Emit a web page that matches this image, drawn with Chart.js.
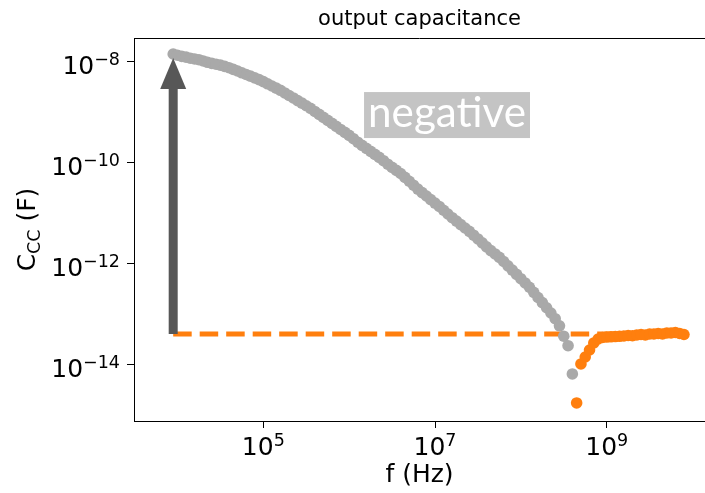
<!DOCTYPE html>
<html>
<head>
<meta charset="utf-8">
<title>output capacitance</title>
<script src="https://cdn.jsdelivr.net/npm/chart.js@4.4.0/dist/chart.umd.min.js"></script>
<style>
  html, body { margin: 0; padding: 0; background: #fff; }
  #wrap { width: 705px; height: 493px; position: relative; }
</style>
</head>
<body>
<div id="wrap"><canvas id="capChart"></canvas></div>
<script>
// sweep frequencies (Hz), 20 points per decade
const freq = [
  8.913e3,
  1.000e4, 1.122e4, 1.259e4, 1.413e4, 1.585e4, 1.778e4, 1.995e4, 2.239e4, 2.512e4, 2.818e4,
  3.162e4, 3.548e4, 3.981e4, 4.467e4, 5.012e4, 5.623e4, 6.310e4, 7.079e4, 7.943e4, 8.913e4,
  1.000e5, 1.122e5, 1.259e5, 1.413e5, 1.585e5, 1.778e5, 1.995e5, 2.239e5, 2.512e5, 2.818e5,
  3.162e5, 3.548e5, 3.981e5, 4.467e5, 5.012e5, 5.623e5, 6.310e5, 7.079e5, 7.943e5, 8.913e5,
  1.000e6, 1.122e6, 1.259e6, 1.413e6, 1.585e6, 1.778e6, 1.995e6, 2.239e6, 2.512e6, 2.818e6,
  3.162e6, 3.548e6, 3.981e6, 4.467e6, 5.012e6, 5.623e6, 6.310e6, 7.079e6, 7.943e6, 8.913e6,
  1.000e7, 1.122e7, 1.259e7, 1.413e7, 1.585e7, 1.778e7, 1.995e7, 2.239e7, 2.512e7, 2.818e7,
  3.162e7, 3.548e7, 3.981e7, 4.467e7, 5.012e7, 5.623e7, 6.310e7, 7.079e7, 7.943e7, 8.913e7,
  1.000e8, 1.122e8, 1.259e8, 1.413e8, 1.585e8, 1.778e8, 1.995e8, 2.239e8, 2.512e8, 2.818e8,
  3.162e8, 3.548e8, 3.981e8, 4.467e8, 5.012e8, 5.623e8, 6.310e8, 7.079e8, 7.943e8, 8.913e8,
  1.000e9, 1.122e9, 1.259e9, 1.413e9, 1.585e9, 1.778e9, 1.995e9, 2.239e9, 2.512e9, 2.818e9,
  3.162e9, 3.548e9, 3.981e9, 4.467e9, 5.012e9, 5.623e9, 6.310e9, 7.079e9, 7.943e9
];

// |C| of the negative part (grey), first 94 frequencies
const negCap = [
  1.44e-8, 1.36e-8, 1.29e-8, 1.25e-8, 1.19e-8, 1.15e-8, 1.11e-8, 1.05e-8, 9.86e-9, 9.38e-9,
  9.04e-9, 8.69e-9, 8.18e-9, 7.71e-9, 7.16e-9, 6.63e-9, 6.11e-9, 5.65e-9, 5.24e-9, 4.84e-9,
  4.48e-9, 4.09e-9, 3.70e-9, 3.35e-9, 3.04e-9, 2.75e-9, 2.44e-9, 2.17e-9, 1.94e-9, 1.72e-9,
  1.53e-9, 1.36e-9, 1.21e-9, 1.05e-9, 9.17e-10, 8.00e-10, 6.98e-10, 6.08e-10, 5.31e-10, 4.62e-10,
  4.04e-10, 3.52e-10, 3.03e-10, 2.58e-10, 2.23e-10, 1.95e-10, 1.70e-10, 1.48e-10, 1.29e-10, 1.11e-10,
  9.46e-11, 8.18e-11, 7.13e-11, 6.19e-11, 5.19e-11, 4.35e-11, 3.63e-11, 3.05e-11, 2.59e-11, 2.22e-11,
  1.89e-11, 1.61e-11, 1.38e-11, 1.16e-11, 9.77e-12, 8.26e-12, 7.08e-12, 6.03e-12, 5.16e-12, 4.43e-12,
  3.72e-12, 3.13e-12, 2.62e-12, 2.19e-12, 1.84e-12, 1.58e-12, 1.35e-12, 1.12e-12, 9.20e-13, 7.57e-13,
  6.22e-13, 5.12e-13, 4.21e-13, 3.46e-13, 2.75e-13, 2.17e-13, 1.72e-13, 1.36e-13, 1.07e-13, 8.26e-14,
  5.97e-14, 3.72e-14, 2.41e-14, 6.64e-15
];

// C of the positive part (orange), remaining frequencies
const posCap = [
  1.77e-15, 1.05e-14, 1.44e-14, 1.98e-14, 2.73e-14, 3.27e-14, 3.51e-14, 3.58e-14, 3.62e-14, 3.66e-14,
  3.70e-14, 3.75e-14, 3.84e-14, 3.80e-14, 3.93e-14, 4.02e-14, 3.93e-14, 4.11e-14, 4.11e-14, 4.21e-14,
  4.11e-14, 4.31e-14, 4.31e-14, 4.41e-14, 4.21e-14, 4.02e-14
];

const xTicks = [1e5, 1e7, 1e9];
const yTicks = [1e-8, 1e-10, 1e-12, 1e-14];
const hfLevel = 4.11e-14;      // dashed high-frequency level
const arrowTop = 1.2e-8;       // arrow tip
const noteText = 'negative';
const notePos = { x: 1.38e7, y: 8.9e-10 };

const GREY = '#a9a9a9';
const ORANGE = '#ff7f0e';
const FONT = '"DejaVu Sans", sans-serif';

const negPoints = negCap.map((c, i) => ({ x: freq[i], y: c }));
const posPoints = posCap.map((c, i) => ({ x: freq[i + negCap.length], y: c }));
const hfLine = [{ x: freq[0], y: hfLevel }, { x: freq[freq.length - 1], y: hfLevel }];

function expLabel(v) {
  return String(Math.round(Math.log10(v))).replace('-', '\u2212');
}

// "10" with a raised exponent, y = baseline of the "10"
function drawPow(ctx, exp, x, y, align) {
  ctx.font = '25px ' + FONT;
  const wb = ctx.measureText('10').width;
  ctx.font = '17.5px ' + FONT;
  const we = ctx.measureText(exp).width;
  const x0 = align === 'center' ? x - (wb + we) / 2 : x - (wb + we);
  ctx.textAlign = 'left';
  ctx.textBaseline = 'alphabetic';
  ctx.font = '25px ' + FONT;
  ctx.fillText('10', x0, y);
  ctx.font = '17.5px ' + FONT;
  ctx.fillText(exp, x0 + wb, y - 9);
}

const decorations = {
  id: 'decorations',
  afterDatasetsDraw(chart) {
    const ctx = chart.ctx;
    const xs = chart.scales.x, ys = chart.scales.y;
    // arrow from the dashed level up to the first point
    const ax = xs.getPixelForValue(freq[0]);
    const yb = ys.getPixelForValue(hfLevel);
    const yt = ys.getPixelForValue(arrowTop);
    const headLen = 31, headW = 26, shaftW = 9;
    ctx.save();
    ctx.fillStyle = '#575757';
    ctx.fillRect(ax - shaftW / 2, yt + headLen - 1, shaftW, yb - yt - headLen + 1);
    ctx.beginPath();
    ctx.moveTo(ax, yt);
    ctx.lineTo(ax - headW / 2, yt + headLen);
    ctx.lineTo(ax + headW / 2, yt + headLen);
    ctx.closePath();
    ctx.fill();

    // "negative" note
    const nx = xs.getPixelForValue(notePos.x);
    const ny = ys.getPixelForValue(notePos.y);
    ctx.font = '40px Lato, Roboto, sans-serif';
    const fs = 40 * 158 / ctx.measureText(noteText).width;
    ctx.font = fs + 'px Lato, Roboto, sans-serif';
    const tw = ctx.measureText(noteText).width;
    ctx.fillStyle = '#c4c4c4';
    ctx.fillRect(nx - tw / 2 - 4, ny - 23, tw + 8, 46);
    ctx.fillStyle = '#ffffff';
    ctx.textAlign = 'center';
    ctx.textBaseline = 'alphabetic';
    ctx.fillText(noteText, nx, ny + 12);
    ctx.restore();
  },
  afterDraw(chart) {
    const ctx = chart.ctx;
    const area = chart.chartArea;
    const xs = chart.scales.x, ys = chart.scales.y;
    ctx.save();
    // top spine
    ctx.strokeStyle = '#000';
    ctx.lineWidth = 1;
    ctx.beginPath();
    ctx.moveTo(area.left, area.top + 0.5);
    ctx.lineTo(area.right, area.top + 0.5);
    ctx.stroke();

    ctx.fillStyle = '#000';
    xTicks.forEach(v => drawPow(ctx, expLabel(v), xs.getPixelForValue(v), 455, 'center'));
    yTicks.forEach(v => drawPow(ctx, expLabel(v), area.left - 14, ys.getPixelForValue(v) + 12.5, 'right'));

    const cx = (area.left + area.right) / 2;
    ctx.textAlign = 'center';
    ctx.textBaseline = 'alphabetic';
    ctx.font = '21px ' + FONT;
    ctx.fillText('output capacitance', cx, 25);
    ctx.font = '25px ' + FONT;
    ctx.fillText('f (Hz)', cx, 482);

    // y label C_CC (F), rotated
    ctx.translate(35, (area.top + area.bottom) / 2);
    ctx.rotate(-Math.PI / 2);
    ctx.textAlign = 'left';
    ctx.font = '25px ' + FONT;
    const w1 = ctx.measureText('C').width;
    const w3 = ctx.measureText(' (F)').width;
    ctx.font = '17.5px ' + FONT;
    const w2 = ctx.measureText('CC').width;
    let x0 = -(w1 + w2 + w3) / 2;
    ctx.font = '25px ' + FONT;
    ctx.fillText('C', x0, 0);
    ctx.font = '17.5px ' + FONT;
    ctx.fillText('CC', x0 + w1, 4.5);
    ctx.font = '25px ' + FONT;
    ctx.fillText(' (F)', x0 + w1 + w2, 0);
    ctx.restore();
  }
};

const axisCommon = {
  type: 'logarithmic',
  grid: { display: true, drawOnChartArea: false, drawTicks: true, tickLength: 7, tickColor: '#000', tickWidth: 1 },
  border: { display: true, color: '#000', width: 1 },
  ticks: { display: false }
};

new Chart(document.getElementById('capChart'), {
  type: 'scatter',
  data: {
    datasets: [
      {
        label: 'C > 0',
        data: posPoints,
        backgroundColor: ORANGE,
        borderWidth: 0,
        pointRadius: 5.8,
        order: 1
      },
      {
        label: 'C < 0',
        data: negPoints,
        backgroundColor: GREY,
        borderWidth: 0,
        pointRadius: 5.8,
        order: 2
      },
      {
        label: 'high frequency level',
        data: hfLine,
        showLine: true,
        borderColor: ORANGE,
        borderWidth: 5,
        borderDash: [18.5, 8],
        borderCapStyle: 'butt',
        pointRadius: 0,
        order: 3
      }
    ]
  },
  options: {
    responsive: true,
    maintainAspectRatio: false,
    animation: false,
    layout: { autoPadding: false, padding: { top: 38, left: 127, right: 0, bottom: 65 } },
    plugins: { legend: { display: false }, tooltip: { enabled: false }, title: { display: false } },
    scales: {
      x: Object.assign({}, axisCommon, {
        min: 3115, max: 1.397e10,
        afterBuildTicks: axis => { axis.ticks = xTicks.map(v => ({ value: v })); }
      }),
      y: Object.assign({}, axisCommon, {
        min: 7.78e-16, max: 2.987e-8,
        afterBuildTicks: axis => { axis.ticks = yTicks.map(v => ({ value: v })); }
      })
    }
  },
  plugins: [decorations]
});
</script>
</body>
</html>
